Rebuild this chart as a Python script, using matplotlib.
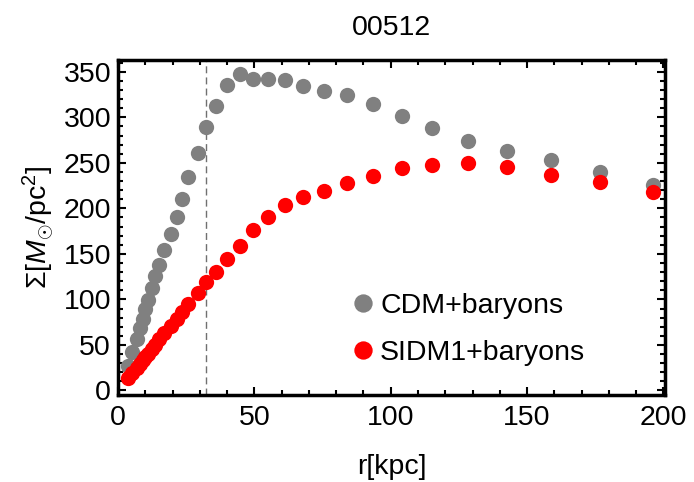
import matplotlib
matplotlib.use("Agg")
import matplotlib.pyplot as plt
from matplotlib.ticker import MultipleLocator

plt.rcParams['font.family'] = ['Liberation Sans', 'DejaVu Sans']
plt.rcParams['mathtext.fontset'] = 'custom'
plt.rcParams['mathtext.rm'] = 'Liberation Sans'
plt.rcParams['mathtext.it'] = 'Liberation Sans:italic'
plt.rcParams['mathtext.sf'] = 'Liberation Sans'

# Radii [kpc]
r = [3.8, 5.3, 6.8, 8.0, 9.0, 10.0, 11.0, 12.3, 13.6, 15.1, 17.0, 19.3, 21.5,
     23.3, 25.8, 29.2, 32.2, 36.1, 39.8, 44.7, 49.6, 55.1, 61.2, 67.9, 75.6,
     84.1, 93.5, 104.1, 115.3, 128.3, 142.7, 158.9, 176.8, 196.3]

# Surface density [M_sun / pc^2]
sigma_cdm = [27, 42, 57, 69, 79, 89, 99, 112, 126, 138, 154, 172, 191,
             210, 235, 261, 289, 312, 336, 348, 342, 342, 341, 334, 329,
             325, 315, 301, 288, 274, 263, 253, 240, 226]
sigma_sidm = [14, 19, 25, 29, 33, 37, 40, 45, 50, 56, 63, 71, 79,
              86, 95, 107, 119, 130, 144, 159, 176, 191, 204, 213, 219,
              228, 236, 244, 248, 250, 246, 237, 229, 218]

r_marker = 32.2
title = "00512"
labels = ["CDM+baryons", "SIDM1+baryons"]

FS = 20.5

fig = plt.figure(figsize=(6.94, 4.82), dpi=100)
ax = fig.add_axes([0.170, 0.1805, 0.788, 0.695])

ax.plot(r, sigma_cdm, 'o', color='#808080', ms=11, mec='none', label=labels[0], zorder=3)
ax.plot(r, sigma_sidm, 'o', color='#ff0000', ms=11, mec='none', label=labels[1], zorder=4)
ax.axvline(r_marker, color='#707070', lw=1.0, ls=(0, (5, 3)), zorder=2)

ax.set_xlim(0, 200.5)
ax.set_ylim(-5, 363)
ax.xaxis.set_major_locator(MultipleLocator(50))
ax.xaxis.set_minor_locator(MultipleLocator(10))
ax.yaxis.set_major_locator(MultipleLocator(50))
ax.yaxis.set_minor_locator(MultipleLocator(10))
ax.tick_params(which='both', direction='in', top=True, right=True, width=1.5,
               labelsize=FS, color='black')
ax.tick_params(which='major', length=6)
ax.tick_params(which='minor', length=3.5)
ax.tick_params(axis='x', which='major', pad=7)
ax.tick_params(axis='y', which='major', pad=5)
for s in ax.spines.values():
    s.set_linewidth(2.5)

ax.set_title(title, fontsize=FS, pad=18)
ax.set_xlabel("r[kpc]", fontsize=FS, labelpad=17)
ax.set_ylabel(r"$\Sigma[M_{\odot}/\mathrm{pc}^2]$", fontsize=FS, labelpad=5)

ax.legend(loc='center left', bbox_to_anchor=(0.37, 0.195), frameon=False,
          fontsize=FS, handletextpad=0.0, markerscale=1.2, labelspacing=0.75,
          handlelength=1.2)

fig.savefig("out.png", dpi=100)
